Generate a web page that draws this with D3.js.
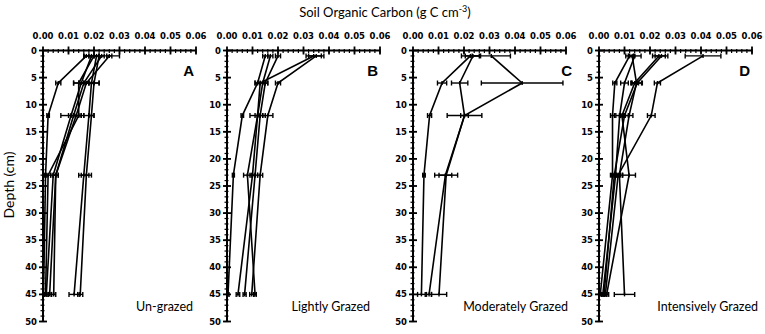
<!DOCTYPE html>
<html>
<head>
<meta charset="utf-8">
<script src="https://cdn.jsdelivr.net/npm/d3@7"></script>
<style>
  body { margin: 0; background: #fff; }
  svg { display: block; }
</style>
</head>
<body>
<svg width="765" height="334"></svg>
<script>
// sampling depths (cm)
var depths = [1, 6, 12, 23, 45];
var xTicks = [0, 0.01, 0.02, 0.03, 0.04, 0.05, 0.06];
var yTicks = [0, 5, 10, 15, 20, 25, 30, 35, 40, 45, 50];

var panelNames = ["Un-grazed", "Lightly Grazed", "Moderately Grazed", "Intensively Grazed"];
var panelLetters = ["A", "B", "C", "D"];

// soil organic carbon per profile (g C cm-3), one row per site
var socA = [
	[0.017, 0.006, 0.002, 0.001, 0.0002],
	[0.021, 0.019, 0.018, 0.016, 0.0122],
	[0.022, 0.020, 0.019, 0.017, 0.0146],
	[0.019, 0.015, 0.011, 0.004, 0.0013],
	[0.023, 0.016, 0.012, 0.005, 0.0042],
	[0.026, 0.017, 0.013, 0.005, 0.0026],
	[0.020, 0.014, 0.014, 0.002, 0.0010]
];
var errA = [
	[0.001, 0.001, 0.0005, 0.0005, 0.0005],
	[0.001, 0.003, 0.002, 0.002, 0.002],
	[0.002, 0.002, 0.001, 0.002, 0.001],
	[0.003, 0.003, 0.004, 0.001, 0.0008],
	[0.007, 0.002, 0.002, 0.001, 0.0008],
	[0.001, 0.003, 0.002, 0.001, 0.0006],
	[0.002, 0.002, 0.002, 0.001, 0.0005]
];

var socB = [
	[0.015, 0.012, 0.006, 0.0025, 0.0004],
	[0.035, 0.020, 0.016, 0.013, 0.0097],
	[0.034, 0.013, 0.012, 0.008, 0.011],
	[0.017, 0.014, 0.012, 0.010, 0.0043],
	[0.020, 0.015, 0.013, 0.011, 0.0069]
];
var errB = [
	[0.001, 0.001, 0.0005, 0.0004, 0.0004],
	[0.003, 0.001, 0.002, 0.001, 0.0008],
	[0.003, 0.002, 0.001, 0.0015, 0.0005],
	[0.001, 0.002, 0.003, 0.001, 0.0007],
	[0.001, 0.001, 0.001, 0.001, 0.0006]
];

var socC = [
	[0.0225, 0.0114, 0.0065, 0.0043, 0.0033],
	[0.0235, 0.0183, 0.0202, 0.0127, 0.0063],
	[0.0307, 0.0428, 0.0202, 0.0130, 0.0102]
];
var errC = [
	[0.0035, 0.0018, 0.0008, 0.0005, 0.0015],
	[0.003, 0.0032, 0.0015, 0.0025, 0.001],
	[0.0075, 0.016, 0.0068, 0.0045, 0.003]
];

var socD = [
	[0.012, 0.0062, 0.0053, 0.0053, 0.0005],
	[0.014, 0.010, 0.0081, 0.0065, 0.0015],
	[0.013, 0.0147, 0.0118, 0.0080, 0.0100],
	[0.0245, 0.0150, 0.0100, 0.0060, 0.0020],
	[0.0235, 0.0140, 0.0090, 0.0118, 0.0030],
	[0.0408, 0.0229, 0.0205, 0.0075, 0.0025]
];
var errD = [
	[0.0015, 0.0008, 0.0008, 0.0008, 0.0005],
	[0.0025, 0.0015, 0.0015, 0.001, 0.0005],
	[0.001, 0.002, 0.0015, 0.0012, 0.004],
	[0.0025, 0.002, 0.0015, 0.001, 0.0008],
	[0.0025, 0.0015, 0.001, 0.0025, 0.0008],
	[0.007, 0.0012, 0.0015, 0.001, 0.0006]
];

var series = [socA, socB, socC, socD];
var errors = [errA, errB, errC, errD];

// layout
var svg = d3.select("svg");
var panelLeft = [43, 227, 413, 599],
	panelWidth = 153,
	yTop = 50.5,
	yBottom = 321.5;
var letterRight = [194, 378, 572, 750],
	nameRight = [193, 370, 568, 758];

var xScale = d3.scaleLinear().domain([0, 0.06]).range([0, panelWidth]),
	yScale = d3.scaleLinear().domain([0, 50]).range([yTop, yBottom]);

var line = d3.line()
	.x(d => xScale(d[0]))
	.y(d => yScale(d[1]));

// title + y label
var title = svg.append("text")
	.attr("x", 385).attr("y", 17)
	.attr("text-anchor", "middle")
	.style("font-family", "Lato, 'Open Sans', sans-serif")
	.style("font-size", "13px");
title.append("tspan").text("Soil Organic Carbon (g C cm");
title.append("tspan").attr("dy", -5).style("font-size", "9px").text("-3");
title.append("tspan").attr("dy", 5).text(")");

svg.append("text")
	.attr("transform", "translate(14," + 185 + ") rotate(-90)")
	.attr("text-anchor", "middle")
	.style("font-family", "Lato, 'Open Sans', sans-serif")
	.style("font-size", "14px")
	.text("Depth (cm)");

panelLeft.forEach(function(x0, p) {
	var g = svg.append("g").attr("transform", "translate(" + x0 + ",0)");

	// minor ticks
	g.selectAll(".xminor")
		.data(d3.range(0, 0.0601, 0.002))
		.enter().append("line")
		.attr("x1", d => xScale(d)).attr("x2", d => xScale(d))
		.attr("y1", yTop - 1.5).attr("y2", yTop + 2.5)
		.attr("stroke", "#000").attr("stroke-width", 1.2);
	g.selectAll(".yminor")
		.data(d3.range(0, 51, 1))
		.enter().append("line")
		.attr("x1", -2.5).attr("x2", 1.5)
		.attr("y1", d => yScale(d)).attr("y2", d => yScale(d))
		.attr("stroke", "#000").attr("stroke-width", 1.2);

	// major ticks
	g.selectAll(".xmajor")
		.data(xTicks)
		.enter().append("line")
		.attr("x1", d => xScale(d)).attr("x2", d => xScale(d))
		.attr("y1", yTop - 4).attr("y2", yTop + 4)
		.attr("stroke", "#000").attr("stroke-width", 1.8);
	g.selectAll(".ymajor")
		.data(yTicks)
		.enter().append("line")
		.attr("x1", -4).attr("x2", 4)
		.attr("y1", d => yScale(d)).attr("y2", d => yScale(d))
		.attr("stroke", "#000").attr("stroke-width", 1.8);

	// axis lines
	g.append("line")
		.attr("x1", 0).attr("x2", xScale(0.06))
		.attr("y1", yTop).attr("y2", yTop)
		.attr("stroke", "#000").attr("stroke-width", 2);
	g.append("line")
		.attr("x1", 0).attr("x2", 0)
		.attr("y1", yTop).attr("y2", yBottom)
		.attr("stroke", "#000").attr("stroke-width", 2);

	// tick labels
	g.selectAll(".xlab")
		.data(xTicks)
		.enter().append("text")
		.attr("x", d => xScale(d)).attr("y", 39)
		.attr("text-anchor", "middle")
		.style("font-family", "'DejaVu Sans', sans-serif")
		.style("font-weight", "bold")
		.style("font-size", "8.5px")
		.text(d => d.toFixed(2));
	g.selectAll(".ylab")
		.data(yTicks)
		.enter().append("text")
		.attr("x", -6).attr("y", d => yScale(d) + 3)
		.attr("text-anchor", "end")
		.style("font-family", "'DejaVu Sans', sans-serif")
		.style("font-weight", "bold")
		.style("font-size", "8.5px")
		.text(d => d);

	// profiles
	var profiles = series[p].map(function(vals, i) {
		return vals.map((v, j) => [v, depths[j], errors[p][i][j]]);
	});

	g.selectAll(".profile")
		.data(profiles)
		.enter().append("path")
		.attr("d", line)
		.attr("fill", "none")
		.attr("stroke", "#000")
		.attr("stroke-width", 1.6);

	// error bars
	var pts = d3.merge(profiles);
	var eb = g.selectAll(".err").data(pts).enter().append("g");
	eb.append("line")
		.attr("x1", d => xScale(Math.max(0, d[0] - d[2]))).attr("x2", d => xScale(d[0] + d[2]))
		.attr("y1", d => yScale(d[1])).attr("y2", d => yScale(d[1]))
		.attr("stroke", "#000").attr("stroke-width", 1.4);
	eb.append("line")
		.attr("x1", d => xScale(Math.max(0, d[0] - d[2]))).attr("x2", d => xScale(Math.max(0, d[0] - d[2])))
		.attr("y1", d => yScale(d[1]) - 2.5).attr("y2", d => yScale(d[1]) + 2.5)
		.attr("stroke", "#000").attr("stroke-width", 1.4);
	eb.append("line")
		.attr("x1", d => xScale(d[0] + d[2])).attr("x2", d => xScale(d[0] + d[2]))
		.attr("y1", d => yScale(d[1]) - 2.5).attr("y2", d => yScale(d[1]) + 2.5)
		.attr("stroke", "#000").attr("stroke-width", 1.4);
	eb.append("line")
		.attr("x1", d => xScale(d[0])).attr("x2", d => xScale(d[0]))
		.attr("y1", d => yScale(d[1]) - 2).attr("y2", d => yScale(d[1]) + 2)
		.attr("stroke", "#000").attr("stroke-width", 1.4);

	// panel letter and treatment label
	svg.append("text")
		.attr("x", letterRight[p]).attr("y", 76)
		.attr("text-anchor", "end")
		.style("font-family", "'Liberation Sans', Arial, sans-serif")
		.style("font-weight", "bold")
		.style("font-size", "15px")
		.text(panelLetters[p]);
	svg.append("text")
		.attr("x", nameRight[p]).attr("y", 311)
		.attr("text-anchor", "end")
		.style("font-family", "Lato, 'Open Sans', sans-serif")
		.style("font-size", "12.5px")
		.text(panelNames[p]);
});
</script>
</body>
</html>
